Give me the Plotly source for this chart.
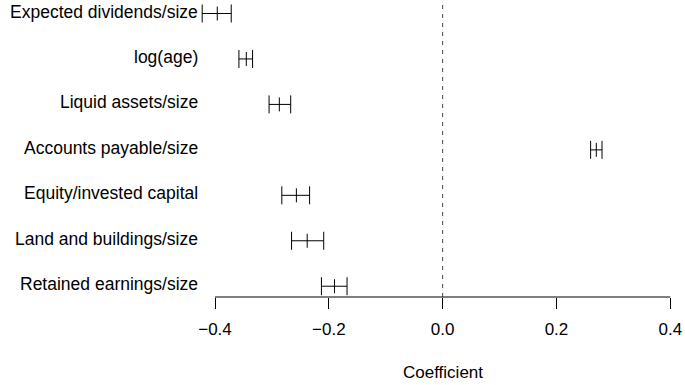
import plotly.graph_objects as go

labels = ["Expected dividends/size", "log(age)", "Liquid assets/size",
          "Accounts payable/size", "Equity/invested capital",
          "Land and buildings/size", "Retained earnings/size"]
coef = [-0.396, -0.345, -0.287, 0.270, -0.257, -0.238, -0.190]
lower = [-0.4225, -0.358, -0.305, 0.260, -0.2826, -0.2655, -0.213]
upper = [-0.3715, -0.334, -0.267, 0.280, -0.2338, -0.209, -0.168]
tick_vals = [-0.4, -0.2, 0.0, 0.2, 0.4]
tick_text = ["\u22120.4", "\u22120.2", "0.0", "0.2", "0.4"]

n = len(labels)
ypos = [n - i for i in range(n)]
err_plus = [u - c for u, c in zip(upper, coef)]
err_minus = [c - l for c, l in zip(coef, lower)]

FONT = "Liberation Sans, Arial, Helvetica, sans-serif"

fig = go.Figure()
fig.add_trace(go.Scatter(
    x=coef, y=ypos, mode="markers",
    marker=dict(symbol="line-ns-open", size=10, color="black",
                line=dict(color="black", width=1)),
    error_x=dict(type="data", symmetric=False, array=err_plus,
                 arrayminus=err_minus, color="black", thickness=1, width=9),
    showlegend=False, hoverinfo="x+y",
))

# zero reference line
fig.add_shape(type="line", xref="x", yref="paper", x0=0, x1=0, y0=0, y1=1,
              line=dict(color="#444444", width=1, dash="4px,5px"))
# axis line spanning first to last tick
fig.add_shape(type="line", xref="x", yref="paper", x0=tick_vals[0], x1=tick_vals[-1],
              y0=0, y1=0, line=dict(color="black", width=1))

# category labels in the left margin
for lab, yv in zip(labels, ypos):
    fig.add_annotation(text=lab, x=0, xref="paper", y=yv, yref="y",
                       xanchor="right", yanchor="middle", xshift=0, yshift=2,
                       showarrow=False,
                       font=dict(family=FONT, size=17.5, color="black"))

fig.add_annotation(text="Coefficient", x=0, xref="x", y=-0.256, yref="paper",
                   showarrow=False, yanchor="middle", xanchor="center",
                   font=dict(family=FONT, size=17, color="black"))

fig.update_layout(
    width=685, height=385,
    margin=dict(l=200, r=0, t=4, b=88),
    plot_bgcolor="white", paper_bgcolor="white",
    font=dict(family=FONT, size=17, color="black"),
    xaxis=dict(range=[-0.42637, 0.42585], tickvals=tick_vals, ticktext=tick_text,
               ticks="outside", ticklen=11, tickwidth=1, tickcolor="black",
               ticklabelstandoff=6,
               showgrid=False, zeroline=False, showline=False,
               tickfont=dict(family=FONT, size=17, color="black")),
    yaxis=dict(range=[0.763, 7.209], showticklabels=False,
               ticks="", showgrid=False, zeroline=False, showline=False),
)

fig.write_html("out.html")
